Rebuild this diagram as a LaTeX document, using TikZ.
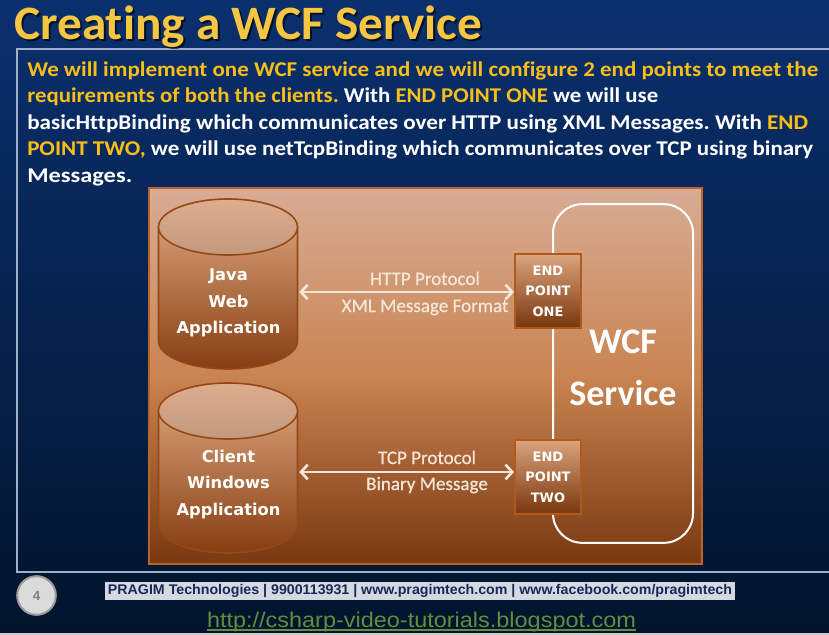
\documentclass[tikz,border=0pt]{standalone}
\usepackage{fontspec}
\setmainfont{Carlito}[Ligatures=CommonOff]
\newfontfamily\lanefont{Carlito}[Ligatures=CommonOff, FakeBold=0.7]
\newfontfamily\verdanalike{DejaVu Sans}
\newfontfamily\arialfam{Liberation Sans}
\usetikzlibrary{arrows.meta}
\frenchspacing

\definecolor{bgtop}{RGB}{10,48,110}
\definecolor{bgbot}{RGB}{2,20,44}
\definecolor{frameline}{RGB}{160,176,204}
\definecolor{titleyellow}{RGB}{246,198,66}
\definecolor{textyellow}{RGB}{250,190,24}
\definecolor{paneltop}{RGB}{216,172,148}
\definecolor{panelmid}{RGB}{201,132,82}
\definecolor{panelbot}{RGB}{122,56,16}
\definecolor{paneledge}{RGB}{184,100,44}
\definecolor{drumtop}{RGB}{212,154,112}
\definecolor{drumbot}{RGB}{134,62,18}
\definecolor{drumcap}{RGB}{221,173,142}
\definecolor{drumedge}{RGB}{150,72,22}
\definecolor{boxtop}{RGB}{218,164,124}
\definecolor{boxbot}{RGB}{122,54,14}
\definecolor{boxedge}{RGB}{176,90,30}
\definecolor{arrowcream}{RGB}{244,230,216}
\definecolor{footgray}{RGB}{212,216,224}
\definecolor{footnavy}{RGB}{26,40,88}
\definecolor{urlgreen}{RGB}{96,142,62}

% set a piece of text and stretch it horizontally to a given width (in px)
\newsavebox\fitbox
\newlength\fitlen
\newcommand\fitto[2]{%
  \sbox\fitbox{#2}%
  \setlength\fitlen{\wd\fitbox}%
  \pgfmathsetmacro\fitratio{#1*0.75/\fitlen}%
  \scalebox{\fitratio}[1]{\usebox\fitbox}}

\tikzset{
  every node/.style={inner sep=0pt},
  para/.style={anchor=base west, text=white,
    font=\fontsize{15.75pt}{18pt}\selectfont\bfseries},
  drumtext/.style={minimum width=105.75pt, align=center, text=white,
    font=\verdanalike\fontsize{12.2pt}{19.9pt}\selectfont\bfseries},
  endpoint/.style={draw=boxedge, line width=1.5pt, top color=boxtop,
    bottom color=boxbot, minimum width=49.5pt, minimum height=55.5pt,
    align=center, text=white,
    font=\verdanalike\fontsize{9.75pt}{15.4pt}\selectfont\bfseries},
  lanelabel/.style={anchor=base, text=arrowcream,
    font=\lanefont\fontsize{14.3pt}{16pt}\selectfont},
  link/.style={arrowcream, line width=2pt,
    arrows={Straight Barb[length=5pt,width=11pt]-Straight Barb[length=5pt,width=11pt]}},
  drum/.pic={
    \path[top color=drumtop, bottom color=drumbot, draw=drumedge, line width=1.2pt]
      (-69.5,0) -- (-69.5,114)
      .. controls (-69.5,129.5) and (-38.4,142) .. (0,142)
      .. controls (38.4,142) and (69.5,129.5) .. (69.5,114)
      -- (69.5,0) -- cycle;
    \path[top color=drumcap, bottom color=drumcap!88!black, draw=drumedge, line width=1.2pt]
      (0,0) ellipse [x radius=69.5, y radius=28];
  }
}

\begin{document}
\begin{tikzpicture}[x=0.75pt,y=-0.75pt]
\useasboundingbox (0,0) rectangle (829,635);

% slide background
\shade[top color=bgtop, bottom color=bgbot] (0,0) rectangle (829,635);
\fill[black!20] (0,633) rectangle (829,635);

% content frame
\draw[frameline, line width=1pt] (840,49) -- (17,49) -- (17,572) -- (840,572);

% heading
\node[anchor=base west, text=black, opacity=0.65,
      font=\fontsize{36pt}{40pt}\selectfont\bfseries] (titleshade) at (16,42)
      {\fitto{468}{Creating a WCF Service}};
\node[anchor=base west, text=titleyellow,
      font=\fontsize{36pt}{40pt}\selectfont\bfseries] (title) at (14,40)
      {\fitto{468}{Creating a WCF Service}};

% description
\node[para] (p1) at (27,77) {\fitto{791}{{\color{textyellow}We will implement one WCF service and we will configure 2 end points to meet the}}};
\node[para] (p2) at (27,103) {\fitto{631}{{\color{textyellow}requirements of both the clients.} With {\color{textyellow}END POINT ONE} we will use}};
\node[para] (p3) at (27,130) {\fitto{781}{basicHttpBinding which communicates over HTTP using XML Messages. With {\color{textyellow}END}}};
\node[para] (p4) at (27,156) {\fitto{786}{{\color{textyellow}POINT TWO,} we will use netTcpBinding which communicates over TCP using binary}};
\node[para] (p5) at (27,182) {\fitto{105}{Messages.}};

% diagram panel
\path[top color=paneltop, bottom color=panelbot, middle color=panelmid,
      draw=paneledge, line width=1pt] (149,188) rectangle (702,564);

% client applications
\pic at (228,227) {drum};
\pic at (228,411) {drum};
\node[drumtext] (java) at (228.5,303) {Java\\Web\\Application};
\node[drumtext] (client) at (228.5,484.5) {Client\\Windows\\Application};

% service
\node[draw=white, line width=1.5pt, rounded corners=22pt,
      minimum width=105pt, minimum height=254pt] (wcf) at (623,373.5) {};
\node[align=center, text=white,
      font=\fontsize{27pt}{39pt}\selectfont\bfseries] (wcftext) at (623,368)
      {WCF\\Service};

% end points
\node[endpoint] (ep1) at (548,291) {END\\POINT\\ONE};
\node[endpoint] (ep2) at (548,477) {END\\POINT\\TWO};

% communication channels
\coordinate (lane1) at (400,292);
\coordinate (lane2) at (400,472);
\draw[link] (java.east |- lane1) -- (ep1.west |- lane1);
\draw[link] (client.east |- lane2) -- (ep2.west |- lane2);
\node[lanelabel] (http) at (425,285) {HTTP Protocol};
\node[lanelabel] (xml) at (425,312) {XML Message Format};
\node[lanelabel] (tcp) at (427,464) {TCP Protocol};
\node[lanelabel] (bin) at (427,490) {Binary Message};

% footer
\node[circle, draw=black!40, line width=1.5pt, fill=black!14,
      minimum size=29pt, text=black!50,
      font=\arialfam\fontsize{10pt}{12pt}\selectfont\bfseries] (pagenum) at (36.5,595.5) {4};
\node[fill=footgray, minimum width=473pt, minimum height=13.5pt,
      text=footnavy, font=\arialfam\fontsize{10.5pt}{12pt}\selectfont\bfseries] (credits) at (420,591)
      {\fitto{624}{PRAGIM Technologies | 9900113931 | www.pragimtech.com | www.facebook.com/pragimtech}};
\node[anchor=base, text=urlgreen, font=\arialfam\fontsize{16pt}{18pt}\selectfont] (url) at (421.5,627)
      {\fitto{429}{http://csharp-video-tutorials.blogspot.com}};
\draw[urlgreen, line width=1pt] (url.south west |- 0,630) -- (url.south east |- 0,630);
\end{tikzpicture}
\end{document}
